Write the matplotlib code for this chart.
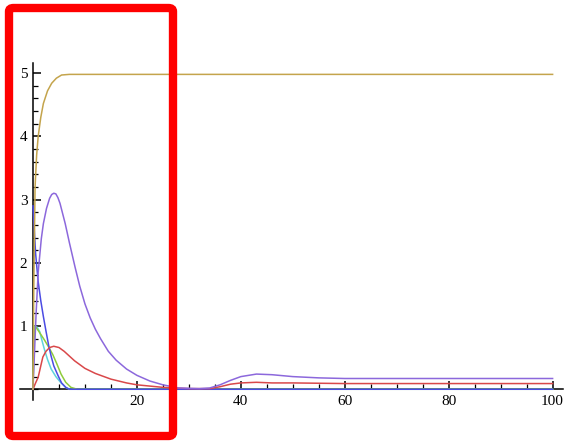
import matplotlib.pyplot as plt
from matplotlib.patches import FancyBboxPatch
from matplotlib.ticker import MultipleLocator

# values
gold_x = [0, 0.15, 0.4, 0.7, 1.0, 1.5, 2.0, 2.8, 3.6, 4.5, 5.5, 7, 100]
gold_y = [0, 1.6, 3.2, 3.7, 4.0, 4.3, 4.52, 4.72, 4.84, 4.92, 4.97, 4.98, 4.98]

purple_x = [0, 0.3, 0.6, 1.0, 1.6, 2.0, 2.6, 3.2, 3.6, 4.0, 4.4, 4.8, 5.2, 6.2, 7.0,
            8.1, 9.0, 10, 11, 12, 13, 14.5, 16, 18, 20, 22.5, 25, 28, 32, 34, 36,
            38, 40, 43, 46, 50, 55, 60, 100]
purple_y = [0, 0.6, 1.2, 1.85, 2.38, 2.62, 2.86, 3.02, 3.08, 3.1, 3.09, 3.03, 2.94,
            2.62, 2.32, 1.93, 1.63, 1.35, 1.13, 0.95, 0.8, 0.6, 0.46, 0.32, 0.22,
            0.13, 0.07, 0.02, 0.01, 0.02, 0.07, 0.14, 0.2, 0.24, 0.23, 0.2, 0.18,
            0.17, 0.17]

red_x = [0, 0.5, 1.0, 1.5, 1.9, 2.5, 3.2, 4.0, 5.0, 6.0, 8.0, 10, 12, 15, 18, 20,
         25, 30, 34, 36, 38, 40, 43, 46, 50, 60, 100]
red_y = [0, 0.1, 0.19, 0.37, 0.51, 0.6, 0.66, 0.68, 0.66, 0.6, 0.45, 0.33, 0.25,
         0.16, 0.1, 0.07, 0.03, 0.01, 0.01, 0.04, 0.08, 0.1, 0.11, 0.1, 0.1, 0.09, 0.09]

blue_x = [0, 0.5, 1.0, 1.5, 2.0, 2.5, 3.0, 3.5, 4.0, 4.8, 5.5, 6.3, 7, 100]
blue_y = [2.9, 2.15, 1.7, 1.4, 1.15, 0.92, 0.7, 0.52, 0.37, 0.22, 0.1, 0.03, 0, 0]

cyan_x = [0, 0.15, 0.35, 0.8, 1.3, 1.7, 2.2, 2.8, 3.5, 4.4, 5.4, 6.3, 7, 100]
cyan_y = [0, 0.7, 1.0, 0.98, 0.91, 0.78, 0.63, 0.47, 0.32, 0.2, 0.1, 0.03, 0, 0]

green_x = [0, 0.2, 0.4, 1.0, 2.2, 3.0, 3.8, 4.6, 5.4, 6.3, 7.3, 8.5, 100]
green_y = [0, 0.8, 1.0, 0.93, 0.78, 0.67, 0.55, 0.4, 0.24, 0.11, 0.03, 0, 0]

plt.rcParams['font.family'] = ['Liberation Serif', 'DejaVu Serif']

fig = plt.figure(figsize=(5.68, 4.41), dpi=100)
ax = fig.add_axes([20 / 568, 1 - 400 / 441, 543 / 568, 337 / 441])

lw = 1.1
ax.plot(cyan_x, cyan_y, color='#5fd3dc', lw=lw)
ax.plot(green_x, green_y, color='#8fcc3c', lw=lw)
ax.plot(blue_x, blue_y, color='#4b4be3', lw=lw)
ax.plot(red_x, red_y, color='#d9484a', lw=lw)
ax.plot(purple_x, purple_y, color='#8c68dc', lw=lw)
ax.plot(gold_x, gold_y, color='#c4a44c', lw=lw)

ax.set_xlim(-2.5, 102)
ax.set_ylim(-0.17, 5.16)

for s in ['top', 'right']:
    ax.spines[s].set_visible(False)
ax.spines['left'].set_position(('data', 0))
ax.spines['bottom'].set_position(('data', 0))
for s in ['left', 'bottom']:
    ax.spines[s].set_linewidth(1.1)
    ax.spines[s].set_zorder(1)

ax.xaxis.set_major_locator(MultipleLocator(20))
ax.xaxis.set_minor_locator(MultipleLocator(5))
ax.yaxis.set_major_locator(MultipleLocator(1))
ax.yaxis.set_minor_locator(MultipleLocator(0.2))
ax.set_xticks([20, 40, 60, 80, 100])
ax.set_yticks([1, 2, 3, 4, 5])
ax.tick_params(which='major', direction='in', length=6, width=1.1, labelsize=11, pad=4)
ax.tick_params(which='minor', direction='in', length=3.5, width=0.9)

# red highlight frame
frame = FancyBboxPatch((9 / 568, 1 - 436 / 441), 164 / 568, 428 / 441,
                       boxstyle='round,pad=0,rounding_size=0.008',
                       transform=fig.transFigure, fill=False,
                       edgecolor='#ff0000', lw=6, zorder=10)
fig.patches.append(frame)

fig.savefig('out.png', dpi=100)
